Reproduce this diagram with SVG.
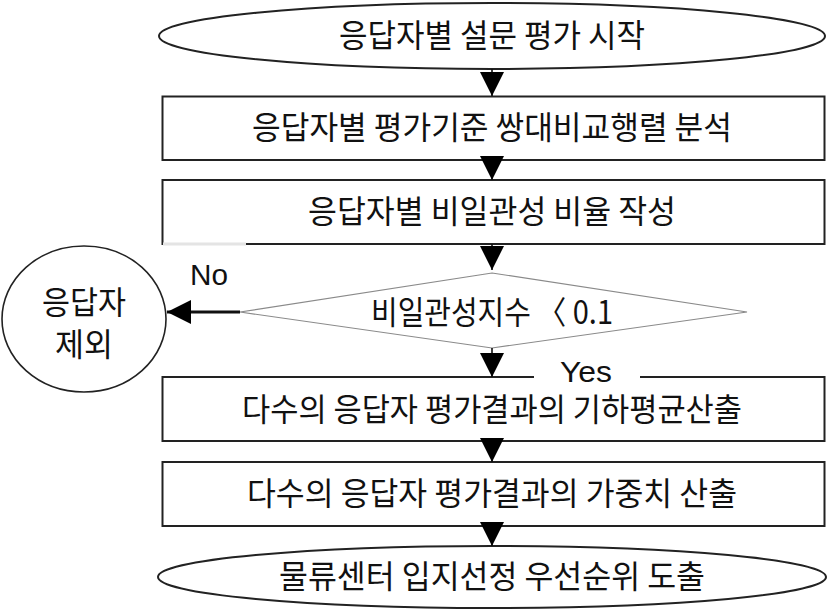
<svg xmlns="http://www.w3.org/2000/svg" width="827" height="610" viewBox="0 0 827 610">
<style>
.box{fill:#fff;stroke:#222;stroke-width:2}
.term{fill:#fff;stroke:#222;stroke-width:2}
.dia{fill:#fff;stroke:#8a8a8a;stroke-width:1.2}
.t{font-family:"Noto Sans CJK KR","Noto Sans",sans-serif;font-size:32px;fill:#111;text-anchor:middle}
.lbl{font-family:"Liberation Sans","Noto Sans",sans-serif;font-size:30px;fill:#111;text-anchor:middle}
.conn{stroke:#111;stroke-width:1.6;fill:none}
</style>
<defs>
<marker id="ah" markerUnits="userSpaceOnUse" markerWidth="24" markerHeight="24" refX="23" refY="11.5" orient="auto" viewBox="0 0 23 23">
<path d="M0,0 L23,11.5 L0,23 z" fill="#000"/>
</marker>
</defs>
<rect width="827" height="610" fill="#fff"/>
<g id="start">
<ellipse class="term" cx="492" cy="36" rx="333" ry="33"/>
<text class="t" x="492" y="47" textLength="306" lengthAdjust="spacingAndGlyphs">응답자별 설문 평가 시작</text>
</g>
<g id="step1">
<rect class="box" x="162.5" y="96.5" width="662" height="63.5"/>
<text class="t" x="492" y="139" textLength="480" lengthAdjust="spacingAndGlyphs">응답자별 평가기준 쌍대비교행렬 분석</text>
</g>
<g id="step2">
<rect class="box" x="162.5" y="180" width="662" height="64"/>
<line x1="163" y1="244" x2="246" y2="244" stroke="#e4e4e4" stroke-width="3"/>
<text class="t" x="492" y="223" textLength="368" lengthAdjust="spacingAndGlyphs">응답자별 비일관성 비율 작성</text>
</g>
<g id="decision">
<polygon class="dia" points="492,273 747,312 492,348 240,312"/>
<text class="t" x="492" y="324" textLength="242" lengthAdjust="spacingAndGlyphs">비일관성지수 〈 0.1</text>
</g>
<g id="exclude">
<ellipse fill="#fff" stroke="#222" stroke-width="1.6" cx="84" cy="319" rx="82" ry="73"/>
<text class="t" x="84" y="314" textLength="84" lengthAdjust="spacingAndGlyphs">응답자</text>
<text class="t" x="84" y="356" textLength="58" lengthAdjust="spacingAndGlyphs">제외</text>
</g>
<g id="step3">
<rect class="box" x="162.5" y="377" width="662" height="64"/>
<text class="t" x="492" y="421" textLength="500" lengthAdjust="spacingAndGlyphs">다수의 응답자 평가결과의 기하평균산출</text>
</g>
<g id="step4">
<rect class="box" x="162.5" y="462" width="662" height="64"/>
<text class="t" x="492" y="505" textLength="490" lengthAdjust="spacingAndGlyphs">다수의 응답자 평가결과의 가중치 산출</text>
</g>
<g id="end">
<ellipse class="term" cx="492" cy="577" rx="334" ry="31"/>
<text class="t" x="492" y="588" textLength="426" lengthAdjust="spacingAndGlyphs">물류센터 입지선정 우선순위 도출</text>
</g>
<g id="connectors">
<line class="conn" x1="492" y1="69" x2="492" y2="96" marker-end="url(#ah)"/>
<line class="conn" x1="492" y1="160" x2="492" y2="180" marker-end="url(#ah)"/>
<line class="conn" x1="492" y1="244" x2="492" y2="270" marker-end="url(#ah)"/>
<line class="conn" x1="492" y1="348" x2="492" y2="377" marker-end="url(#ah)"/>
<line class="conn" x1="492" y1="441" x2="492" y2="462" marker-end="url(#ah)"/>
<line class="conn" x1="492" y1="526" x2="492" y2="546" marker-end="url(#ah)"/>
<line x1="240" y1="312" x2="167" y2="312" stroke="#111" stroke-width="3" marker-end="url(#ah)"/>
<text class="lbl" x="209" y="285" textLength="38" lengthAdjust="spacingAndGlyphs">No</text>
<rect x="534" y="368" width="106" height="16" fill="#fff"/>
<text class="lbl" x="586" y="382" textLength="52" lengthAdjust="spacingAndGlyphs">Yes</text>
</g>
</svg>
